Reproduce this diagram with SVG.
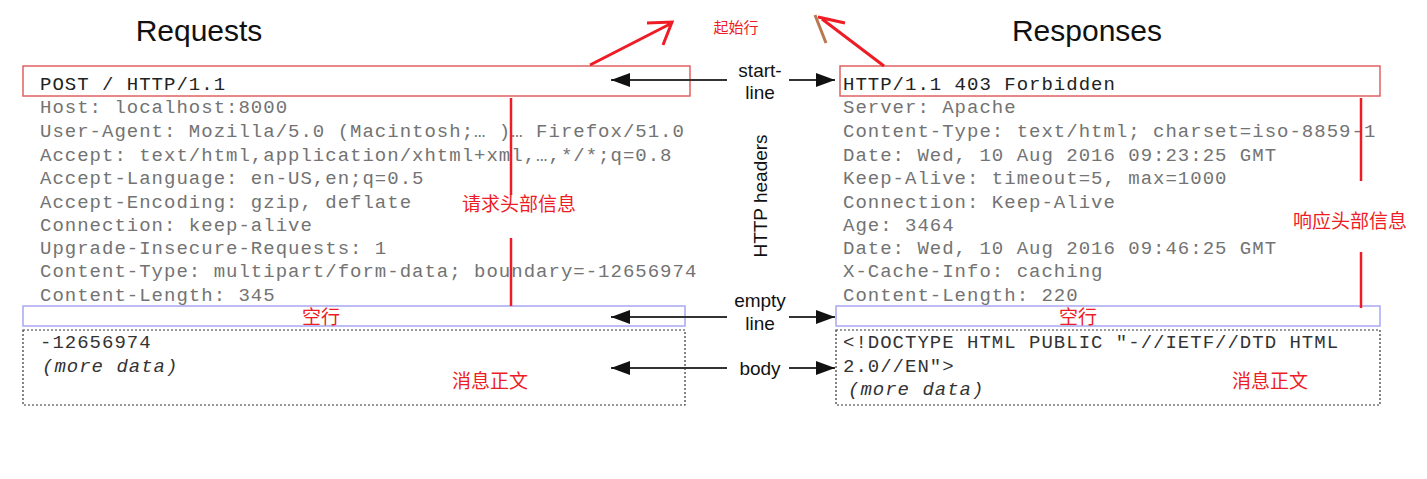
<svg xmlns="http://www.w3.org/2000/svg" width="1427" height="479" viewBox="0 0 1427 479">
<style>
.title{font-family:"Liberation Sans",Arial,sans-serif;font-size:30px;fill:#111}
.lbl{font-family:"Liberation Sans",Arial,sans-serif;font-size:19px;fill:#111;text-anchor:middle}
.mono{font-family:"Liberation Mono","Courier New",monospace;font-size:19px;letter-spacing:1px;fill:#737373}
.mono1{font-family:"Liberation Mono","Courier New",monospace;font-size:19px;letter-spacing:1px;fill:#222}
.body{font-family:"Liberation Mono","Courier New",monospace;font-size:19px;letter-spacing:1px;fill:#333}
.cn{font-family:"Noto Sans CJK SC",sans-serif;font-size:19px;fill:#ee1c24;text-anchor:middle}
.cns{font-size:15px}
.startbox{fill:none;stroke:#e06060;stroke-width:1.5}
.emptybox{fill:none;stroke:#a8a8f0;stroke-width:1.5}
.bodybox{fill:none;stroke:#333;stroke-width:1.2;stroke-dasharray:2 2}
.conn{stroke:#333;stroke-width:2;fill:none}
.red{stroke:#ee1c24;stroke-width:3;fill:none}
.redv{stroke:#ee1c24;stroke-width:2.5;fill:none}
</style>
<defs>
<marker id="ah" markerWidth="20" markerHeight="16" refX="19" refY="8" orient="auto" markerUnits="userSpaceOnUse">
<path d="M0,1 L19,8 L0,15 Z" fill="#111"/>
</marker>
</defs>
<rect width="1427" height="479" fill="#fff"/>

<g id="titles">
<text class="title" x="199" y="41" text-anchor="middle">Requests</text>
<text class="title" x="1087" y="41" text-anchor="middle">Responses</text>
</g>

<g id="request">
<rect class="startbox" x="23" y="66" width="667" height="30"/>
<text class="mono1" x="40" y="90">POST / HTTP/1.1</text>
<text class="mono" x="40" y="113">Host: localhost:8000</text>
<text class="mono" x="40" y="137">User-Agent: Mozilla/5.0 (Macintosh;… )… Firefox/51.0</text>
<text class="mono" x="40" y="161">Accept: text/html,application/xhtml+xml,…,*/*;q=0.8</text>
<text class="mono" x="40" y="184">Accept-Language: en-US,en;q=0.5</text>
<text class="mono" x="40" y="208">Accept-Encoding: gzip, deflate</text>
<text class="mono" x="40" y="231">Connection: keep-alive</text>
<text class="mono" x="40" y="254">Upgrade-Insecure-Requests: 1</text>
<text class="mono" x="40" y="277">Content-Type: multipart/form-data; boundary=-12656974</text>
<text class="mono" x="40" y="301">Content-Length: 345</text>
<rect class="emptybox" x="23" y="306" width="662" height="20"/>
<text class="cn" x="321" y="324">空行</text>
<rect class="bodybox" x="23" y="330" width="662" height="75"/>
<text class="body" x="40" y="348">-12656974</text>
<text class="body" x="42" y="372" font-style="italic">(more data)</text>
<text class="cn" x="490" y="388">消息正文</text>
<line class="redv" x1="511" y1="98" x2="511" y2="195"/>
<line class="redv" x1="511" y1="238" x2="511" y2="306"/>
<text class="cn" x="519" y="211">请求头部信息</text>
</g>

<g id="response">
<rect class="startbox" x="840" y="66" width="540" height="30"/>
<text class="mono1" x="843" y="90">HTTP/1.1 403 Forbidden</text>
<text class="mono" x="843" y="113">Server: Apache</text>
<text class="mono" x="843" y="137">Content-Type: text/html; charset=iso-8859-1</text>
<text class="mono" x="843" y="161">Date: Wed, 10 Aug 2016 09:23:25 GMT</text>
<text class="mono" x="843" y="184">Keep-Alive: timeout=5, max=1000</text>
<text class="mono" x="843" y="208">Connection: Keep-Alive</text>
<text class="mono" x="843" y="231">Age: 3464</text>
<text class="mono" x="843" y="254">Date: Wed, 10 Aug 2016 09:46:25 GMT</text>
<text class="mono" x="843" y="277">X-Cache-Info: caching</text>
<text class="mono" x="843" y="301">Content-Length: 220</text>
<rect class="emptybox" x="836" y="306" width="544" height="20"/>
<text class="cn" x="1078" y="324">空行</text>
<rect class="bodybox" x="836" y="330" width="544" height="75"/>
<text class="body" x="843" y="348">&lt;!DOCTYPE HTML PUBLIC "-//IETF//DTD HTML</text>
<text class="body" x="843" y="372">2.0//EN"&gt;</text>
<text class="body" x="848" y="395" font-style="italic">(more data)</text>
<text class="cn" x="1270" y="388">消息正文</text>
<line class="redv" x1="1361" y1="98" x2="1361" y2="181"/>
<line class="redv" x1="1361" y1="252" x2="1361" y2="308"/>
<text class="cn" x="1350" y="228">响应头部信息</text>
</g>

<g id="labels">
<text class="lbl" x="760" y="77">start-</text>
<text class="lbl" x="760" y="99">line</text>
<text class="lbl" x="0" y="0" transform="translate(767,196) rotate(-90)">HTTP headers</text>
<text class="lbl" x="760" y="307">empty</text>
<text class="lbl" x="760" y="330">line</text>
<text class="lbl" x="760" y="375">body</text>
<text class="cn cns" x="736" y="33">起始行</text>
</g>

<g id="connectors">
<line class="conn" x1="727" y1="80" x2="611" y2="80" marker-end="url(#ah)"/>
<line class="conn" x1="789" y1="80" x2="835" y2="80" marker-end="url(#ah)"/>
<line class="conn" x1="727" y1="317" x2="611" y2="317" marker-end="url(#ah)"/>
<line class="conn" x1="789" y1="317" x2="835" y2="317" marker-end="url(#ah)"/>
<line class="conn" x1="727" y1="368" x2="611" y2="368" marker-end="url(#ah)"/>
<line class="conn" x1="789" y1="368" x2="835" y2="368" marker-end="url(#ah)"/>
<path class="red" d="M590,65 L670,24 M647,23 L672,22 L663,45"/>
<path class="red" d="M884,66 L822,19 M818,17 L845,23"/>
<line x1="815" y1="15" x2="826" y2="43" stroke="#b87850" stroke-width="3"/>
</g>
</svg>
